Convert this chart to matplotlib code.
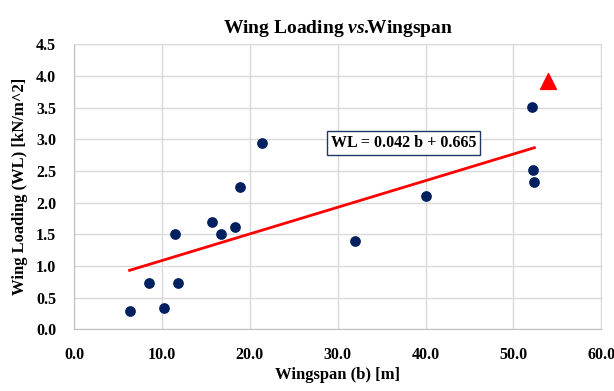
import matplotlib
matplotlib.use('Agg')
import matplotlib.pyplot as plt

# datos
wingspan = [6.3, 8.5, 10.2, 11.5, 11.8, 15.7, 16.7, 18.3, 18.9, 21.4, 32.0, 40.0, 52.1, 52.2, 52.4]
wing_loading = [0.28, 0.73, 0.34, 1.50, 0.73, 1.69, 1.50, 1.61, 2.24, 2.94, 1.39, 2.10, 3.51, 2.52, 2.33]
target_b = [54.0]
target_wl = [3.92]
slope = 0.042
intercept = 0.665
x_ticks = [0, 10, 20, 30, 40, 50, 60]
y_ticks = [0, 0.5, 1.0, 1.5, 2.0, 2.5, 3.0, 3.5, 4.0, 4.5]

plt.rcParams['font.family'] = 'Liberation Serif'
plt.rcParams['font.weight'] = 'bold'
plt.rcParams['mathtext.fontset'] = 'custom'
plt.rcParams['mathtext.it'] = 'Liberation Serif:italic:bold'
plt.rcParams['mathtext.rm'] = 'Liberation Serif:bold'

fig = plt.figure(figsize=(6.14, 3.91), dpi=100)
ax = fig.add_axes([0.121, 0.158, 0.858, 0.729])

ax.grid(True, color='#d9d9d9', linewidth=1)
ax.set_axisbelow(True)
for s in ax.spines.values():
    s.set_color('#d9d9d9')
ax.spines['left'].set_color('#bfbfbf')
ax.spines['bottom'].set_color('#bfbfbf')

# linea de tendencia
x0, x1 = min(wingspan), max(wingspan)
ax.plot([x0, x1], [slope * x0 + intercept, slope * x1 + intercept], color='#ff0000', linewidth=2, zorder=2)

ax.scatter(wingspan, wing_loading, s=45, color='#002060', zorder=3)
ax.scatter(target_b, target_wl, s=130, marker='^', color='#ff0000', zorder=3)

ax.text(37.5, 2.94, f'WL = {slope} b + {intercept}', ha='center', va='center', fontsize=11.5,
        bbox=dict(facecolor='white', edgecolor='#1f3864', linewidth=1, pad=3))

ax.set_xlim(0, 60)
ax.set_ylim(0, 4.5)
ax.set_xticks(x_ticks)
ax.set_xticklabels([f'{v:.1f}' for v in x_ticks])
ax.set_yticks(y_ticks)
ax.set_yticklabels([f'{v:.1f}' for v in y_ticks])
ax.tick_params(length=0, labelsize=11.5)
ax.tick_params(axis='x', pad=13)
ax.tick_params(axis='y', pad=13)

ax.set_xlabel('Wingspan (b) [m]', fontsize=12, fontweight='bold', labelpad=3)
ax.set_ylabel('Wing Loading (WL) [kN/m^2]', fontsize=12, fontweight='bold', labelpad=6)
ax.set_title(r'Wing Loading $vs.\!\!$Wingspan', fontsize=14, fontweight='bold', pad=8)

fig.savefig('out.png', dpi=100)
